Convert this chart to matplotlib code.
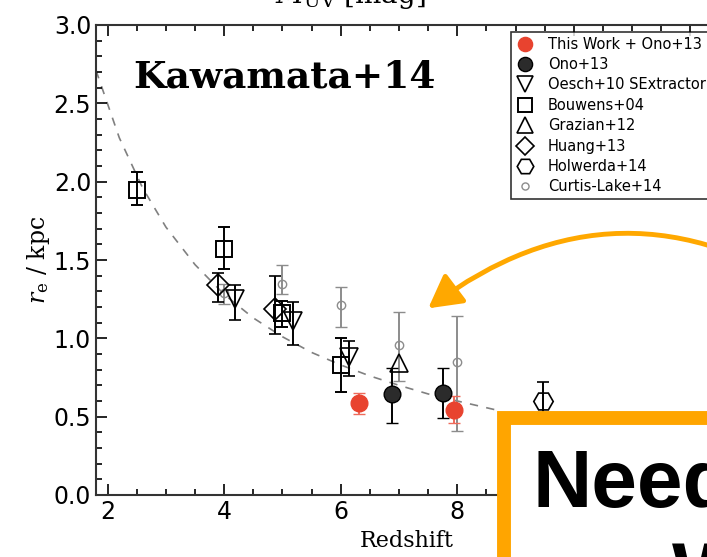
import matplotlib
matplotlib.use("Agg")
from matplotlib import pyplot as plt
from matplotlib.patches import Rectangle, FancyArrowPatch
from matplotlib.lines import Line2D
from matplotlib.ticker import MultipleLocator

# size-redshift data
this_z = [6.31, 7.95]
this_r = [0.59, 0.54]
this_lo = [0.52, 0.46]
this_hi = [0.65, 0.63]

ono_z = [6.88, 7.75]
ono_r = [0.645, 0.65]
ono_lo = [0.46, 0.49]
ono_hi = [0.81, 0.81]

oesch_z = [4.18, 5.18, 6.15]
oesch_r = [1.25, 1.11, 0.88]
oesch_lo = [1.12, 0.96, 0.76]
oesch_hi = [1.34, 1.23, 0.98]

bouwens_z = [2.5, 4.0, 4.99, 6.0]
bouwens_r = [1.95, 1.57, 1.16, 0.83]
bouwens_lo = [1.85, 1.44, 1.07, 0.66]
bouwens_hi = [2.06, 1.71, 1.24, 1.00]

grazian_z = [7.0]
grazian_r = [0.84]

huang_z = [3.89, 4.87]
huang_r = [1.34, 1.19]
huang_lo = [1.23, 1.03]
huang_hi = [1.42, 1.40]

holwerda_z = [9.47]
holwerda_r = [0.60]
holwerda_lo = [0.51]
holwerda_hi = [0.72]

curtis_z = [4.0, 5.0, 6.0, 7.0, 8.0]
curtis_r = [1.29, 1.35, 1.21, 0.96, 0.85]
curtis_lo = [1.22, 1.28, 1.07, 0.73, 0.41]
curtis_hi = [1.35, 1.47, 1.33, 1.17, 1.14]

# dashed fit curve
fit_z = [1.8, 2.2, 2.6, 3.0, 3.5, 4.0, 4.5, 5.0, 5.5, 6.0, 6.5, 7.0, 7.5, 8.0, 8.7]
fit_r = [2.71, 2.28, 1.96, 1.71, 1.47, 1.28, 1.13, 1.01, 0.91, 0.83, 0.76, 0.70, 0.645, 0.60, 0.54]

legend_labels = ['This Work + Ono+13', 'Ono+13', 'Oesch+10 SExtractor', 'Bouwens+04',
                 'Grazian+12', 'Huang+13', 'Holwerda+14', 'Curtis-Lake+14']


def errs(r, lo, hi):
    return [[a - b for a, b in zip(r, lo)], [b - a for a, b in zip(r, hi)]]


plt.rcParams['mathtext.fontset'] = 'dejavuserif'

W, H = 707, 557
fig = plt.figure(figsize=(W / 100, H / 100), dpi=100)
ax_left, ax_bottom, ax_top, ax_right = 96, 495, 25, 737
ax = fig.add_axes([ax_left / W, 1 - ax_bottom / H,
                   (ax_right - ax_left) / W, (ax_bottom - ax_top) / H])

ax.plot(fit_z, fit_r, ls=(0, (5, 5)), color='0.5', lw=1.2, zorder=1)

# marker styles per dataset, same order as legend_labels
styles = [
    dict(marker='o', ms=12, mfc='#e8432f', mec='#e8432f', mew=1.0),
    dict(marker='o', ms=12, mfc='#2b2b2b', mec='k', mew=1.0),
    dict(marker='v', ms=13, mfc='none', mec='k', mew=1.2),
    dict(marker='s', ms=12, mfc='none', mec='k', mew=1.4),
    dict(marker='^', ms=13, mfc='none', mec='k', mew=1.2),
    dict(marker='D', ms=11, mfc='none', mec='k', mew=1.2),
    dict(marker='H', ms=14, mfc='none', mec='k', mew=1.2),
    dict(marker='o', ms=6, mfc='none', mec='0.55', mew=1.0),
]

eb = dict(capsize=4, elinewidth=1.4, capthick=1.4, ls='none')
ax.errorbar(curtis_z, curtis_r, yerr=errs(curtis_r, curtis_lo, curtis_hi), color='0.55', **styles[7], **eb)
ax.errorbar(bouwens_z, bouwens_r, yerr=errs(bouwens_r, bouwens_lo, bouwens_hi), color='k', **styles[3], **eb)
ax.errorbar(huang_z, huang_r, yerr=errs(huang_r, huang_lo, huang_hi), color='k', **styles[5], **eb)
ax.errorbar(oesch_z, oesch_r, yerr=errs(oesch_r, oesch_lo, oesch_hi), color='k', **styles[2], **eb)
ax.plot(grazian_z, grazian_r, ls='none', **styles[4])
ax.errorbar(holwerda_z, holwerda_r, yerr=errs(holwerda_r, holwerda_lo, holwerda_hi), color='k', **styles[6], **eb)
ax.errorbar(ono_z, ono_r, yerr=errs(ono_r, ono_lo, ono_hi), color='k', **styles[1], **eb)
ax.errorbar(this_z, this_r, yerr=errs(this_r, this_lo, this_hi), color='#ee6a5a', **styles[0], **eb)

ax.set_xlim(1.8, 12.8)
ax.set_ylim(0, 3.0)
ax.xaxis.set_major_locator(MultipleLocator(2))
ax.xaxis.set_minor_locator(MultipleLocator(0.5))
ax.yaxis.set_major_locator(MultipleLocator(0.5))
ax.yaxis.set_minor_locator(MultipleLocator(0.1))
ax.tick_params(which='both', direction='in', top=True, right=True, labelsize=17, width=1.2)
ax.tick_params(which='major', length=8)
ax.tick_params(which='minor', length=4)
for s in ax.spines.values():
    s.set_linewidth(1.5)
    s.set_color('#333333')

ax.set_xlabel('Redshift', family='DejaVu Serif', fontsize=16)
ax.xaxis.set_label_coords((407 - ax_left) / (ax_right - ax_left), -0.075)
ax.set_ylabel(r'$r_{\rm e}$ / kpc', family='DejaVu Serif', fontsize=17)
ax.yaxis.set_label_coords((52 - ax_left) / (ax_right - ax_left), 0.5)

fig.text(133 / W, 1 - 88 / H, 'Kawamata+14', family='DejaVu Serif', weight='bold',
         fontsize=27, va='baseline')

handles = [Line2D([], [], ls='none', **st) for st in styles]
for h in handles:
    h.set_markersize(h.get_markersize() * 0.85)
leg = ax.legend(handles, legend_labels, loc='upper left',
                bbox_to_anchor=((511 - ax_left) / (ax_right - ax_left), (ax_bottom - 32) / (ax_bottom - ax_top)),
                fontsize=10.5, frameon=True, fancybox=False, borderaxespad=0, labelspacing=0.37,
                handletextpad=0.9, handlelength=1.3, borderpad=0.32)
leg.get_frame().set_edgecolor('k')
leg.get_frame().set_linewidth(1.2)

# top axis label, mostly cut off by the slide crop
fig.text(350 / W, 1 - 3 / H, r'$M_{\rm UV}$ [mag]', family='DejaVu Serif', fontsize=20,
         ha='center', va='baseline')

# slide overlay: orange arrow and boxed text
arrow = FancyArrowPatch((820 / W, 1 - 300 / H), (426 / W, 1 - 310 / H), transform=fig.transFigure,
                        connectionstyle='arc3,rad=0.36', arrowstyle='-|>,head_length=20,head_width=11',
                        color='#ffa800', lw=3.5, zorder=10)
fig.patches.append(arrow)
fig.patches.append(Rectangle((504 / W, -0.2), 0.5, 0.2 + 1 - 418 / H, transform=fig.transFigure,
                             facecolor='white', edgecolor='#ffa500', lw=10, zorder=11))
fig.text(532 / W, 1 - 507 / H, 'Need', family='Liberation Sans', weight='bold', fontsize=59,
         va='baseline', zorder=12)
fig.text(672 / W, 1 - 600 / H, 'W', family='Liberation Sans', weight='bold', fontsize=59,
         va='baseline', zorder=12)

fig.savefig('out.png', dpi=100)
